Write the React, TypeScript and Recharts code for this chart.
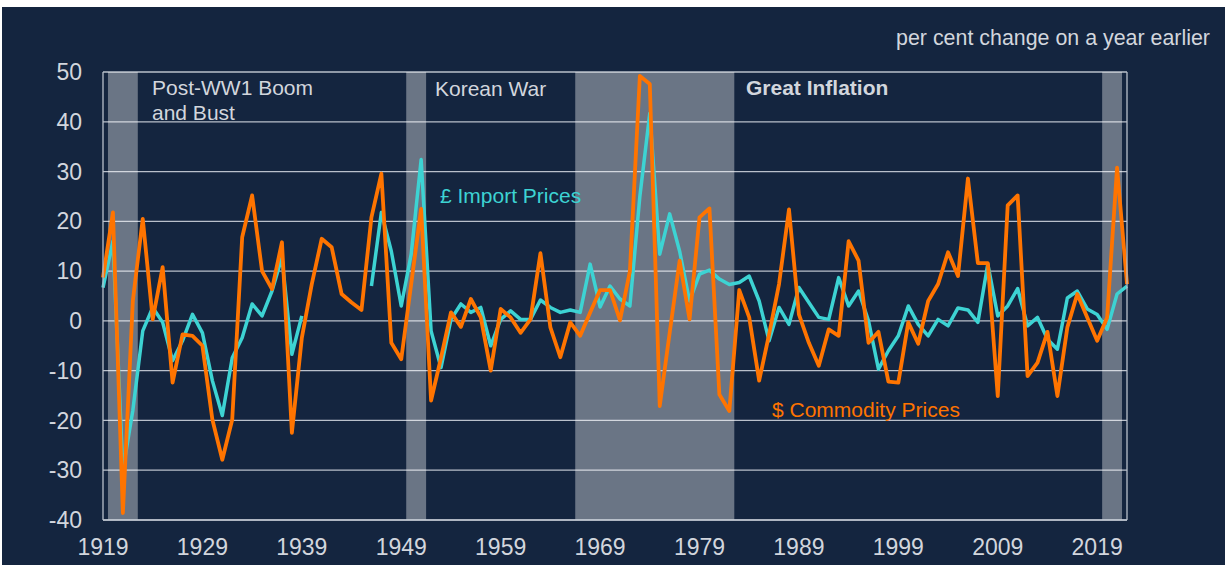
import React from 'react';
import { ComposedChart, Line, XAxis, YAxis, CartesianGrid, ReferenceArea } from 'recharts';

// annual % change, 1919 onwards (import prices missing 1940-45)
const importPrices: (number | null)[] = [
  6.7, 16, -30, -18, -2, 2.7, -0.3, -8, -4, 1.3,
  -2.4, -12, -19, -7.4, -3.4, 3.4, 1, 6, 12.8, -6.7,
  1, null, null, null, null, null, null, 7, 21.8, 14,
  3, 13.4, 32.4, -2, -9.4, 0.3, 3.4, 1.7, 2.7, -5,
  0.3, 2, 0.3, 0.3, 4.2, 2.7, 1.7, 2.2, 1.7, 11.4,
  2.8, 7, 4.4, 3, 25, 41.7, 13.4, 21.5, 14, 4,
  9.4, 10.2, 8.4, 7.3, 7.7, 9, 4, -4, 2.7, -0.7,
  6.7, 3.7, 0.7, 0.3, 8.7, 3, 6, 0, -9.7, -6,
  -3, 3, -0.7, -3, 0.3, -1, 2.6, 2.2, -0.3, 11.4,
  1, 3, 6.5, -1, 0.7, -3.7, -5.7, 4.6, 6, 2.4,
  1.3, -1.7, 5.4, 7,
];

const commodityPrices: number[] = [
  8.7, 21.8, -38.6, 4, 20.5, 0.3, 10.8, -12.4, -2.7, -3,
  -5, -19.8, -27.9, -19.8, 16.8, 25.2, 10, 6.4, 15.8, -22.5,
  -3.4, 7.4, 16.5, 14.8, 5.4, 3.7, 2.2, 20.8, 29.6, -4.4,
  -7.7, 7.4, 22.5, -16, -7.4, 1.7, -1.2, 4.4, 0.7, -10,
  2.4, 0.7, -2.4, 0.3, 13.6, -1.3, -7.3, -0.3, -3, 1.7,
  6.2, 6.2, 0.1, 10, 49.2, 47.6, -17.1, -2.4, 12.1, 0.3,
  20.8, 22.6, -14.8, -18.1, 6.2, 0.7, -12, -2.7, 7.4, 22.4,
  1.3, -4.4, -9, -1.7, -3, 16, 12.1, -4.4, -2.2, -12.2,
  -12.4, -0.3, -4.6, 4, 7.4, 13.8, 9, 28.6, 11.6, 11.6,
  -15.1, 23.2, 25.2, -11.1, -8.4, -2.2, -15.1, -1.3, 5.4, 0.7,
  -4, 0.7, 30.8, 7.4,
];

const firstYear = 1919;
const years = commodityPrices.map((_, i) => firstYear + i);

const xTicks = [1919, 1929, 1939, 1949, 1959, 1969, 1979, 1989, 1999, 2009, 2019];
const yTicks = [-40, -30, -20, -10, 0, 10, 20, 30, 40, 50];

// shaded episodes (start, end in years)
const episodes = [
  { from: 1919.5, to: 1922.5 },
  { from: 1949.5, to: 1951.5 },
  { from: 1966.5, to: 1982.5 },
  { from: 2019.5, to: 2021.5 },
];

const data = years.map((year, i) => ({
  year,
  importPrices: importPrices[i],
  commodityPrices: commodityPrices[i],
}));

const NAVY = '#14253f';
const CYAN = '#3dd3d3';
const ORANGE = '#ff7400';
const TEXT = '#d2d6dd';
const GRID = '#b9c0cb';
const FONT = '"Liberation Sans", Arial, sans-serif';

const App: React.FC = () => {
  const tickStyle = { fill: TEXT, fontSize: 23, fontFamily: FONT };

  return (
    <div style={{ position: 'absolute', left: 0, top: 0, width: 1225, height: 565, background: '#fff' }}>
      <div style={{ position: 'absolute', left: 2, top: 7, width: 1223, height: 558, background: NAVY }}>
        <ComposedChart width={1223} height={558} data={data} margin={{ top: 65, right: 0, bottom: 0, left: 0 }}>
          <CartesianGrid yAxisId="left" vertical={false} stroke={GRID} strokeWidth={1.3} />
          {episodes.map((e, i) => (
            <ReferenceArea
              key={`ep-${i}`}
              yAxisId="left"
              x1={e.from}
              x2={e.to}
              y1={-40}
              y2={50}
              fill="#ffffff"
              fillOpacity={0.37}
              stroke="none"
            />
          ))}
          <XAxis
            dataKey="year"
            type="number"
            domain={[1919, 2022]}
            ticks={xTicks}
            height={45}
            tickLine={false}
            tickSize={0}
            tickMargin={19}
            axisLine={{ stroke: GRID, strokeWidth: 1.3 }}
            tick={tickStyle}
          />
          <YAxis
            yAxisId="left"
            domain={[-40, 50]}
            ticks={yTicks}
            width={101}
            tickLine={false}
            tickSize={0}
            tickMargin={21}
            axisLine={{ stroke: GRID, strokeWidth: 1.3 }}
            tick={tickStyle}
            interval={0}
          />
          <YAxis
            yAxisId="right"
            orientation="right"
            domain={[-40, 50]}
            ticks={yTicks}
            width={98}
            tickLine={false}
            tickSize={0}
            tickMargin={21}
            axisLine={{ stroke: GRID, strokeWidth: 1.3 }}
            tick={tickStyle}
            interval={0}
          />
          <Line
            yAxisId="left"
            type="linear"
            dataKey="importPrices"
            stroke={CYAN}
            strokeWidth={3.5}
            strokeLinejoin="round"
            dot={false}
            connectNulls={false}
            isAnimationActive={false}
          />
          <Line
            yAxisId="left"
            type="linear"
            dataKey="commodityPrices"
            stroke={ORANGE}
            strokeWidth={3.8}
            strokeLinejoin="round"
            dot={false}
            isAnimationActive={false}
          />
        </ComposedChart>
      </div>
      <svg
        width={1225}
        height={565}
        style={{ position: 'absolute', left: 0, top: 0, pointerEvents: 'none' }}
        fontFamily={FONT}
      >
        <text x={1210} y={45} textAnchor="end" fontSize={21.4} fill={TEXT}>per cent change on a year earlier</text>
        <text x={152} y={95} fontSize={21} fill={TEXT}>Post-WW1 Boom</text>
        <text x={152} y={120} fontSize={21} fill={TEXT}>and Bust</text>
        <text x={435} y={96} fontSize={21} fill={TEXT}>Korean War</text>
        <text x={746} y={95} fontSize={21} fontWeight="bold" fill={TEXT}>Great Inflation</text>
        <text x={440} y={203} fontSize={21} fill={CYAN}>£ Import Prices</text>
        <text x={772} y={417} fontSize={21} fill={ORANGE}>$ Commodity Prices</text>
      </svg>
    </div>
  );
};

export default App;
